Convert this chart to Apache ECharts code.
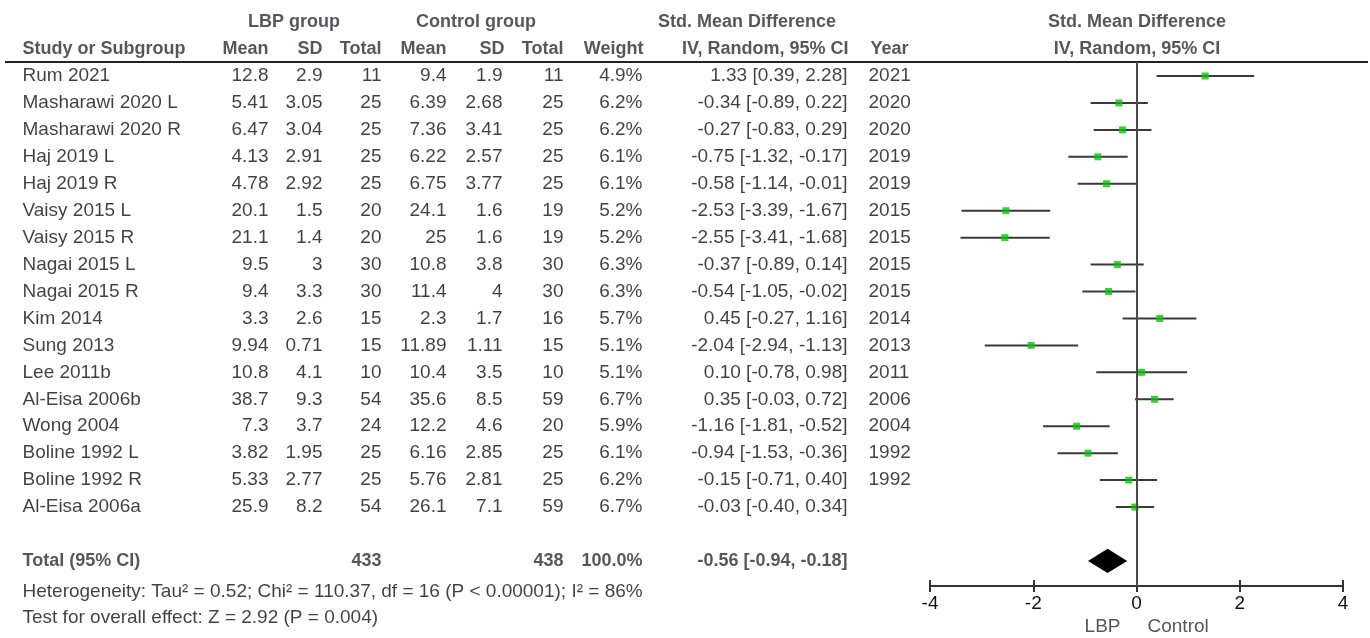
<!DOCTYPE html>
<html>
<head>
<meta charset="utf-8">
<script src="https://cdn.jsdelivr.net/npm/echarts@6/dist/echarts.min.js"></script>
<style>
html,body{margin:0;padding:0;background:#fff;}
#chart{width:1370px;height:638px;}
</style>
</head>
<body>
<div id="chart"></div>
<script>
// ---------- data ----------
const studies = ['Rum 2021','Masharawi 2020 L','Masharawi 2020 R','Haj 2019 L','Haj 2019 R','Vaisy 2015 L','Vaisy 2015 R','Nagai 2015 L','Nagai 2015 R','Kim 2014','Sung 2013','Lee 2011b','Al-Eisa 2006b','Wong 2004','Boline 1992 L','Boline 1992 R','Al-Eisa 2006a'];
const lbpMean = [12.8,5.41,6.47,4.13,4.78,20.1,21.1,9.5,9.4,3.3,9.94,10.8,38.7,7.3,3.82,5.33,25.9];
const lbpSD   = [2.9,3.05,3.04,2.91,2.92,1.5,1.4,3,3.3,2.6,0.71,4.1,9.3,3.7,1.95,2.77,8.2];
const lbpN    = [11,25,25,25,25,20,20,30,30,15,15,10,54,24,25,25,54];
const ctlMean = [9.4,6.39,7.36,6.22,6.75,24.1,25,10.8,11.4,2.3,11.89,10.4,35.6,12.2,6.16,5.76,26.1];
const ctlSD   = [1.9,2.68,3.41,2.57,3.77,1.6,1.6,3.8,4,1.7,1.11,3.5,8.5,4.6,2.85,2.81,7.1];
const ctlN    = [11,25,25,25,25,19,19,30,30,16,15,10,59,20,25,25,59];
const weight  = [4.9,6.2,6.2,6.1,6.1,5.2,5.2,6.3,6.3,5.7,5.1,5.1,6.7,5.9,6.1,6.2,6.7];
const smd     = [1.33,-0.34,-0.27,-0.75,-0.58,-2.53,-2.55,-0.37,-0.54,0.45,-2.04,0.10,0.35,-1.16,-0.94,-0.15,-0.03];
const ciLow   = [0.39,-0.89,-0.83,-1.32,-1.14,-3.39,-3.41,-0.89,-1.05,-0.27,-2.94,-0.78,-0.03,-1.81,-1.53,-0.71,-0.40];
const ciHigh  = [2.28,0.22,0.29,-0.17,-0.01,-1.67,-1.68,0.14,-0.02,1.16,-1.13,0.98,0.72,-0.52,-0.36,0.40,0.34];
const years   = ['2021','2020','2020','2019','2019','2015','2015','2015','2015','2014','2013','2011','2006','2004','1992','1992',''];

const totalLabel = 'Total (95% CI)';
const totalLbpN = 433, totalCtlN = 438, totalWeight = 100.0;
const totalSmd = -0.56, totalLow = -0.94, totalHigh = -0.18;
const heterogeneityText = 'Heterogeneity: Tau\u00b2 = 0.52; Chi\u00b2 = 110.37, df = 16 (P < 0.00001); I\u00b2 = 86%';
const overallText = 'Test for overall effect: Z = 2.92 (P = 0.004)';
const headerTop = ['LBP group','Control group','Std. Mean Difference','Std. Mean Difference'];
const headerBottom = ['Study or Subgroup','Mean','SD','Total','Mean','SD','Total','Weight','IV, Random, 95% CI','Year','IV, Random, 95% CI'];
const xTicks = {min:-4, max:4, step:2};
const favourLabels = ['LBP','Control'];

// ---------- layout ----------
const W = 1370, H = 638;
const row0 = 76, rowH = 26.94;
const FS = 19, HFS = 18;
const TXT = '#111', HDR = '#2c2c36';
const FONT = '"Liberation Sans", Arial, sans-serif';
const totalRow = 18, hetRow = 19.15, overallRow = 20.12;
const col = {study:22, mean:269, sd:323, n:382, cmean:447, csd:503, cn:564, weight:643, ci:848, year:868};

const fmt2 = v => v.toFixed(2);
const ciText = (m,l,h) => fmt2(m) + ' [' + fmt2(l) + ', ' + fmt2(h) + ']';

const tMin = -2.5, tTop = row0 + tMin*rowH;
const tMax = (H - row0)/rowH;
const pTop = 62, pBottomY = 586;
const pMin = (pTop - row0)/rowH, pMax = (pBottomY - row0)/rowH;

function textSeries(items, align, bold, color, size){
  const pos = align === 'right' ? 'left' : (align === 'left' ? 'right' : 'inside');
  return {
    type:'scatter', xAxisIndex:0, yAxisIndex:0, symbolSize:1, silent:true, clip:false,
    data: items.map(d => ({value:[d[0], d[1]], name:String(d[2])})),
    label:{show:true, position:pos, distance:0, formatter:p=>p.name,
      fontFamily:FONT, fontSize:size||FS, fontWeight: bold?'bold':'normal', color: color||TXT},
    itemStyle:{color:'rgba(0,0,0,0)'}
  };
}

const idx = studies.map((_,i)=>i);
const series = [];
series.push(textSeries(idx.map(i=>[col.study,i,studies[i]]),'left'));
series.push(textSeries(idx.map(i=>[col.mean,i,String(lbpMean[i])]),'right'));
series.push(textSeries(idx.map(i=>[col.sd,i,String(lbpSD[i])]),'right'));
series.push(textSeries(idx.map(i=>[col.n,i,String(lbpN[i])]),'right'));
series.push(textSeries(idx.map(i=>[col.cmean,i,String(ctlMean[i])]),'right'));
series.push(textSeries(idx.map(i=>[col.csd,i,String(ctlSD[i])]),'right'));
series.push(textSeries(idx.map(i=>[col.cn,i,String(ctlN[i])]),'right'));
series.push(textSeries(idx.map(i=>[col.weight,i,weight[i].toFixed(1)+'%']),'right'));
series.push(textSeries(idx.map(i=>[col.ci,i,ciText(smd[i],ciLow[i],ciHigh[i])]),'right'));
series.push(textSeries(idx.map(i=>[col.year,i,years[i]]),'left'));
series.push(textSeries([[col.study,totalRow,totalLabel]],'left',true,HDR,HFS));
series.push(textSeries([[col.n,totalRow,String(totalLbpN)],[col.cn,totalRow,String(totalCtlN)],
  [col.weight,totalRow,totalWeight.toFixed(1)+'%'],[col.ci,totalRow,ciText(totalSmd,totalLow,totalHigh)]],'right',true,HDR,HFS));
series.push(textSeries([[col.study,hetRow,heterogeneityText],[col.study,overallRow,overallText]],'left'));
series.push(textSeries([[294,-2,headerTop[0]],[476,-2,headerTop[1]],[747,-2,headerTop[2]],[1137,-2,headerTop[3]],[1137,-1,headerBottom[10]]],'center',true,HDR,HFS));
series.push(textSeries([[col.study,-1,headerBottom[0]],[col.year+2,-1,headerBottom[9]]],'left',true,HDR,HFS));
series.push(textSeries([[col.mean,-1,headerBottom[1]],[col.sd,-1,headerBottom[2]],[col.n,-1,headerBottom[3]],
  [col.cmean,-1,headerBottom[4]],[col.csd+2,-1,headerBottom[5]],[col.cn,-1,headerBottom[6]],[col.weight+1,-1,headerBottom[7]],[col.ci+1,-1,headerBottom[8]]],'right',true,HDR,HFS));
series.push(textSeries([[1121,20.45,favourLabels[0]]],'right',false,'#2a2a38'));
series.push(textSeries([[1147,20.45,favourLabels[1]]],'left',false,'#2a2a38'));
series.push({type:'line', xAxisIndex:0, yAxisIndex:0, data:[], silent:true,
  markLine:{silent:true, symbol:'none', label:{show:false}, animation:false,
    lineStyle:{color:'#222', width:2, type:'solid'}, data:[{yAxis:-0.52}]}});

// ---------- forest plot ----------
series.push({
  type:'custom', xAxisIndex:1, yAxisIndex:1, silent:true,
  data: idx.map(i=>[ciLow[i], ciHigh[i], i]),
  encode:{x:[0,1], y:2},
  renderItem:(params, api)=>{
    const a = api.coord([api.value(0), api.value(2)]);
    const b = api.coord([api.value(1), api.value(2)]);
    return {type:'line', shape:{x1:a[0], y1:a[1], x2:b[0], y2:b[1]},
      style:{stroke:'#3a3a3a', lineWidth:2}};
  }
});
series.push({
  type:'scatter', xAxisIndex:1, yAxisIndex:1, silent:true,
  symbol:'rect', symbolSize:7,
  itemStyle:{color:'#0ac40a'},
  data: idx.map(i=>[smd[i], i]),
  markLine:{silent:true, symbol:'none', label:{show:false}, animation:false,
    lineStyle:{color:'#4a4a4a', width:2, type:'solid'}, data:[{xAxis:0}]}
});
series.push({
  type:'custom', xAxisIndex:1, yAxisIndex:1, silent:true,
  data:[[totalLow, totalSmd, totalHigh, totalRow]],
  encode:{x:[0,2], y:3},
  renderItem:(params, api)=>{
    const r = api.value(3), hh = 0.45;
    const pts = [
      api.coord([api.value(0), r]),
      api.coord([api.value(1), r - hh]),
      api.coord([api.value(2), r]),
      api.coord([api.value(1), r + hh])
    ];
    return {type:'polygon', shape:{points:pts}, style:{fill:'#000'}};
  }
});

const option = {
  animation:false,
  backgroundColor:'#fff',
  grid:[
    {left:5, right:W-1368, top:tTop, bottom:0},
    {left:930, right:W-1343, top:pTop, bottom:H-pBottomY}
  ],
  xAxis:[
    {gridIndex:0, type:'value', min:5, max:1368, show:false},
    {gridIndex:1, type:'value', position:'bottom', min:xTicks.min, max:xTicks.max, interval:xTicks.step,
      axisLine:{show:true, onZero:false, lineStyle:{color:'#333', width:2}},
      axisTick:{show:true, length:6, lineStyle:{color:'#333', width:2}},
      axisLabel:{show:true, fontFamily:FONT, fontSize:FS, color:TXT, margin:8},
      splitLine:{show:false}},
    {gridIndex:1, type:'value', position:'bottom', min:xTicks.min, max:xTicks.max, interval:xTicks.step,
      axisLine:{show:false, onZero:false},
      axisTick:{show:true, inside:true, length:6, lineStyle:{color:'#333', width:2}},
      axisLabel:{show:false}, splitLine:{show:false}}
  ],
  yAxis:[
    {gridIndex:0, type:'value', inverse:true, min:tMin, max:tMax, show:false},
    {gridIndex:1, type:'value', inverse:true, min:pMin, max:pMax, show:false}
  ],
  series: series
};

const chart = echarts.init(document.getElementById('chart'), null, {renderer:'canvas'});
chart.setOption(option);
</script>
</body>
</html>
